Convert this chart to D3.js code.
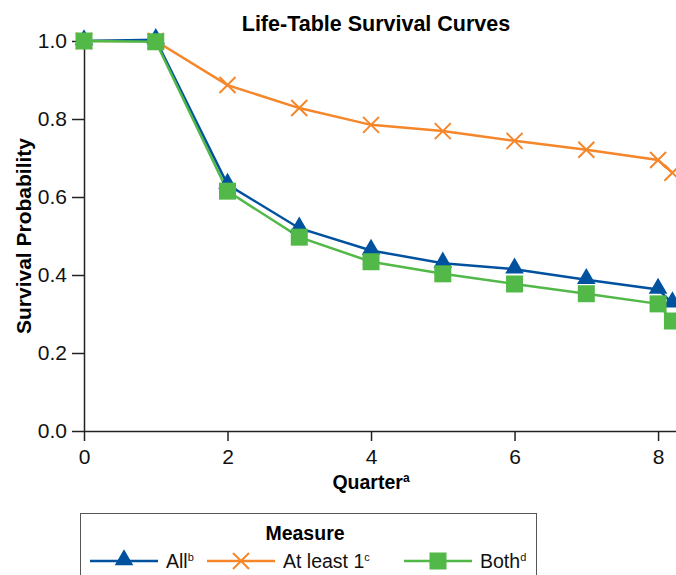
<!DOCTYPE html>
<html>
<head>
<meta charset="utf-8">
<script src="https://cdn.jsdelivr.net/npm/d3@7"></script>
<style>
  body { margin: 0; background: #fff; }
  svg { font-family: "Liberation Sans", Arial, sans-serif; }
</style>
</head>
<body>
<svg id="viz"></svg>
<script>
// data
const quarters = [0, 1, 2, 3, 4, 5, 6, 7, 8, 8.2];
const allVals = [1.0, 1.003, 0.632, 0.52, 0.463, 0.43, 0.415, 0.388, 0.363, 0.328];
const atLeastVals = [1.0, 1.0, 0.887, 0.828, 0.785, 0.769, 0.744, 0.721, 0.695, 0.662];
const bothVals = [1.0, 0.998, 0.615, 0.497, 0.434, 0.403, 0.377, 0.352, 0.326, 0.282];
const xTicks = [0, 2, 4, 6, 8];
const yTicks = [0, 0.2, 0.4, 0.6, 0.8, 1.0];

const width = 676, height = 575;
const svg = d3.select("#viz").attr("width", width).attr("height", height);

const x = d3.scaleLinear().domain([0, 8.25]).range([84, 676]);
const y = d3.scaleLinear().domain([0, 1]).range([431, 41]);

// series, drawn back to front
const series = [
  { name: "At least 1", sup: "c", vals: atLeastVals, color: "#f5862a", shape: "x" },
  { name: "All", sup: "b", vals: allVals, color: "#00529f", shape: "tri" },
  { name: "Both", sup: "d", vals: bothVals, color: "#52b848", shape: "sq" }
];

// axes
const xAxis = d3.axisBottom(x).tickValues(xTicks).tickFormat(d3.format("d"))
  .tickSize(10).tickPadding(8).tickSizeOuter(0);
const yAxis = d3.axisLeft(y).tickValues(yTicks).tickFormat(d3.format(".1f"))
  .tickSize(12).tickPadding(5).tickSizeOuter(0);

const gx = svg.append("g").attr("transform", "translate(0,431)").call(xAxis);
const gy = svg.append("g").attr("transform", "translate(84,0)").call(yAxis);
[gx, gy].forEach(g => {
  g.attr("font-size", null).attr("font-family", null);
  g.select(".domain").attr("stroke", "#222").attr("stroke-width", 1.5);
  g.selectAll(".tick line").attr("stroke", "#222").attr("stroke-width", 1.5);
  g.selectAll(".tick text").attr("fill", "#111").style("font-size", "21px");
});

// titles
svg.append("text").attr("x", 376).attr("y", 31).attr("text-anchor", "middle")
  .style("font-weight", "bold").style("font-size", "21.5px").text("Life-Table Survival Curves");

const xl = svg.append("text").attr("x", 371).attr("y", 489).attr("text-anchor", "middle")
  .style("font-weight", "bold").style("font-size", "19.5px");
xl.append("tspan").text("Quarter");
xl.append("tspan").attr("dy", "-7").style("font-size", "12px").text("a");

svg.append("text").attr("transform", "translate(31,236) rotate(-90)").attr("text-anchor", "middle")
  .style("font-weight", "bold").style("font-size", "21px").text("Survival Probability");

// markers
function marker(g, shape, color) {
  if (shape === "tri") {
    g.append("path").attr("d", d3.symbol(d3.symbolTriangle, 150)()).attr("fill", color)
      .attr("transform", "translate(0,-1)");
  } else if (shape === "sq") {
    g.append("rect").attr("x", -8.5).attr("y", -8.5).attr("width", 17).attr("height", 17).attr("fill", color);
  } else {
    g.append("path").attr("d", "M-8,-8L8,8M-8,8L8,-8").attr("stroke", color).attr("stroke-width", 2).attr("fill", "none");
  }
}

const line = d3.line().x((d, i) => x(quarters[i])).y(d => y(d));

series.forEach(s => {
  svg.append("path").datum(s.vals).attr("d", line)
    .attr("fill", "none").attr("stroke", s.color).attr("stroke-width", 2.5);
});
series.forEach(s => {
  svg.selectAll(null).data(s.vals).enter().append("g")
    .attr("transform", (d, i) => "translate(" + x(quarters[i]) + "," + y(d) + ")")
    .each(function() { marker(d3.select(this), s.shape, s.color); });
});

// legend
svg.append("rect").attr("x", 80.5).attr("y", 513.5).attr("width", 456).attr("height", 70)
  .attr("fill", "none").attr("stroke", "#555").attr("stroke-width", 1);
svg.append("text").attr("x", 305).attr("y", 540).attr("text-anchor", "middle")
  .style("font-weight", "bold").style("font-size", "19.5px").text("Measure");

const legendItems = [
  { s: series[1], x0: 90, tx: 166 },
  { s: series[0], x0: 207, tx: 283 },
  { s: series[2], x0: 404, tx: 480 }
];
legendItems.forEach(it => {
  const ly = 561;
  svg.append("line").attr("x1", it.x0).attr("x2", it.x0 + 68).attr("y1", ly).attr("y2", ly)
    .attr("stroke", it.s.color).attr("stroke-width", 2.5);
  const g = svg.append("g").attr("transform", "translate(" + (it.x0 + 34) + "," + ly + ")");
  marker(g, it.s.shape, it.s.color);
  const t = svg.append("text").attr("x", it.tx).attr("y", ly + 7).style("font-size", "19.5px").attr("fill", "#111");
  t.append("tspan").text(it.s.name);
  t.append("tspan").attr("dy", "-7").style("font-size", "11px").text(it.s.sup);
});
</script>
</body>
</html>
